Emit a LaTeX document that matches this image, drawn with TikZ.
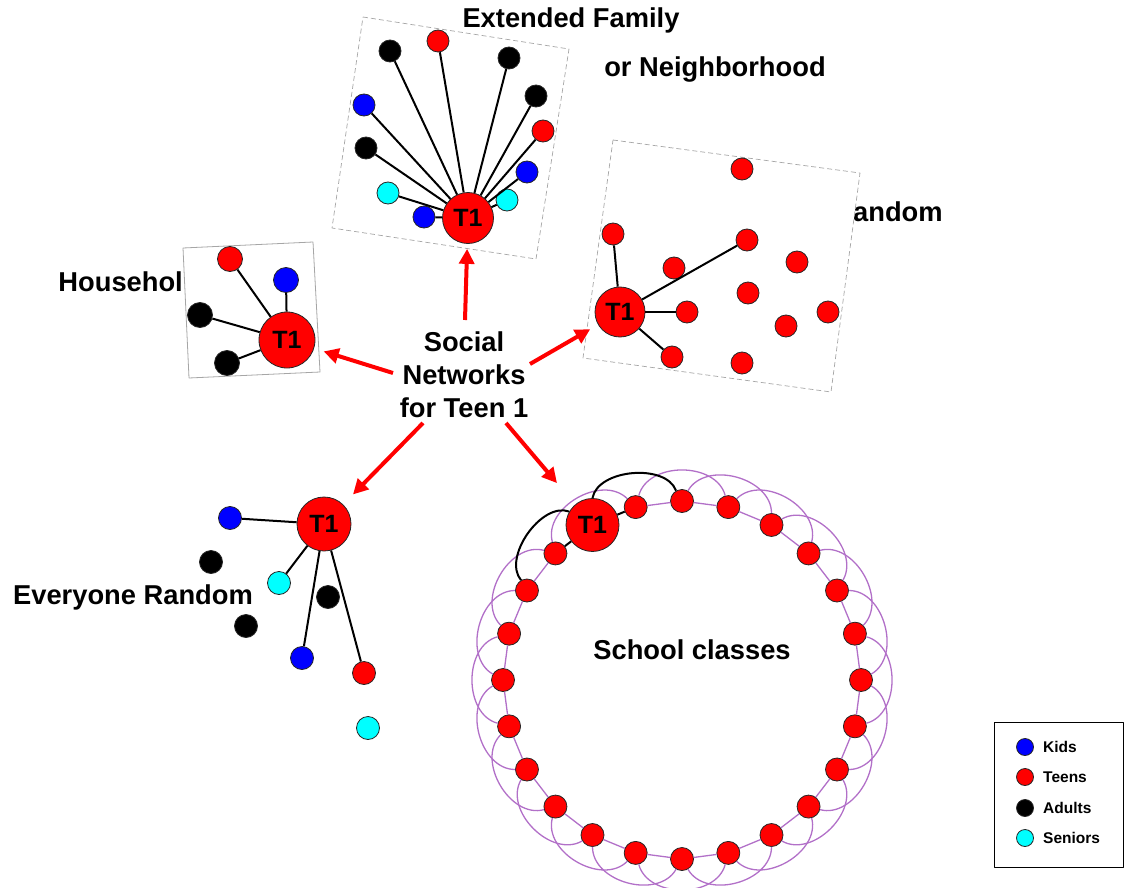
\documentclass[tikz,border=0pt]{standalone}
\usepackage{fontspec}
\setmainfont{Liberation Sans}
\usetikzlibrary{calc,arrows.meta}

\definecolor{ringpurple}{RGB}{178,112,200}
\definecolor{seniorcyan}{RGB}{0,255,255}

\tikzset{
  person/.style={circle,draw=black!85,line width=0.8pt,minimum size=22pt,inner sep=0pt},
  kid/.style={person,fill=blue},
  teen/.style={person,fill=red},
  adult/.style={person,fill=black},
  senior/.style={person,fill=seniorcyan},
  hub/.style={person,fill=red,minimum size=52pt,font=\bfseries\fontsize{25}{25}\selectfont},
  tie/.style={line width=2pt},
  frame/.style={draw=gray!70,line width=0.7pt,dash pattern=on 5pt off 3pt},
  title/.style={font=\bfseries\fontsize{27.3}{33}\selectfont,inner sep=0pt},
  keytext/.style={font=\bfseries\fontsize{15.5}{16}\selectfont,inner sep=0pt,anchor=west},
  pointer/.style={red,line width=4pt,-{Triangle[length=15pt,width=15pt]}},
  classlink/.style={draw=ringpurple,line width=1.3pt},
}

\begin{document}
\begin{tikzpicture}[x=1pt,y=-1pt,line join=round]
	\useasboundingbox (0,0) rectangle (1127,888);

	% Extended family box
	\draw[frame,fill=white] (363,17) -- (569,49) -- (536,259) -- (332,228) -- cycle;
	\node[hub,minimum size=51pt] (famT1) at (468,218) {T1};
	\node[adult]  (fam1)  at (390,51)  {};
	\node[teen]   (fam2)  at (438,41)  {};
	\node[adult]  (fam3)  at (509,58)  {};
	\node[adult]  (fam4)  at (536,96)  {};
	\node[kid]    (fam5)  at (364,105) {};
	\node[teen]   (fam6)  at (543,131) {};
	\node[adult]  (fam7)  at (366,148) {};
	\node[kid]    (fam8)  at (527,172) {};
	\node[senior] (fam9)  at (388,193) {};
	\node[senior] (fam10) at (507,200) {};
	\node[kid]    (fam11) at (424,217) {};
	\foreach \n in {1,...,11}
		\draw[tie] (famT1) -- (fam\n);
	\node[title] (famtitle) at (571,20) {Extended Family};
	\node[title] (neightitle) at (715,70) {or Neighborhood};

	% Household box
	\node[title,anchor=east] (housetitle) at (183,282) {Househol};
	\draw[draw=gray!70,line width=0.8pt,fill=white] (183,248) -- (313,242) -- (320,372) -- (189,378) -- cycle;
	\node[hub,minimum size=56pt] (houseT1) at (287,340) {T1};
	\node[teen,minimum size=25pt]  (house1) at (230,259) {};
	\node[kid,minimum size=25pt]   (house2) at (286,280) {};
	\node[adult,minimum size=25pt] (house3) at (200,315) {};
	\node[adult,minimum size=25pt] (house4) at (227,363) {};
	\foreach \n in {1,...,4}
		\draw[tie] (houseT1) -- (house\n);

	% Random teens box
	\node[title,anchor=west] (randtitle) at (853,212) {andom};
	\draw[frame,fill=white] (613,140) -- (860,173) -- (831,392) -- (583,358) -- cycle;
	\node[hub,minimum size=50pt] (randT1) at (620,312) {T1};
	\node[teen] (rand1)  at (742,169) {};
	\node[teen] (rand2)  at (613,234) {};
	\node[teen] (rand3)  at (747,240) {};
	\node[teen] (rand4)  at (674,268) {};
	\node[teen] (rand5)  at (797,262) {};
	\node[teen] (rand6)  at (748,293) {};
	\node[teen] (rand7)  at (687,312) {};
	\node[teen] (rand8)  at (828,312) {};
	\node[teen] (rand9)  at (786,326) {};
	\node[teen] (rand10) at (672,357) {};
	\node[teen] (rand11) at (742,363) {};
	\foreach \n in {2,3,7,10}
		\draw[tie] (randT1) -- (rand\n);

	% Everyone random
	\node[hub,minimum size=54pt] (allT1) at (324,524) {T1};
	\node[kid,minimum size=23pt]    (all1) at (230,518) {};
	\node[adult,minimum size=23pt]  (all2) at (211,562) {};
	\node[senior,minimum size=23pt] (all3) at (279,583) {};
	\node[adult,minimum size=23pt]  (all4) at (328,597) {};
	\node[adult,minimum size=23pt]  (all5) at (246,626) {};
	\node[kid,minimum size=23pt]    (all6) at (302,658) {};
	\node[teen,minimum size=23pt]   (all7) at (364,673) {};
	\node[senior,minimum size=23pt] (all8) at (368,728) {};
	\foreach \n in {1,3,6,7}
		\draw[tie] (allT1) -- (all\n);
	\node[title] (alltitle) at (133,597) {Everyone Random};

	% School classes ring
	\coordinate (ring) at (682,680);
	\foreach \i in {0,1,3,4,5,6,...,23}
		\node[teen,minimum size=23pt] (s\i) at ($(ring)+({-90-15*\i}:179)$) {};
	\node[hub,minimum size=53pt] (s2) at ($(ring)+(-120:179)$) {T1};
	\foreach \i in {0,...,23} {
		\pgfmathtruncatemacro\j{mod(\i+1,24)}
		\pgfmathtruncatemacro\k{mod(\i+2,24)}
		\ifnum\i=2 \else
			\ifnum\j=2 \else \draw[classlink] (s\i) -- (s\j); \fi
			\ifnum\k=2 \else \draw[classlink] (s\i) to[bend right=75,looseness=1.05] (s\k); \fi
		\fi
	}
	\draw[tie] (s2) -- (s1);
	\draw[tie] (s2) -- (s3);
	\draw[tie] (s0) to[bend right=75,looseness=0.9] (s2);
	\draw[tie] (s2) to[bend right=75,looseness=0.9] (s4);
	\node[title] (schooltitle) at (692,650) {School classes};

	% Centre and arrows
	\node[title,align=center] (social) at (464,375) {Social\\Networks\\for Teen 1};
	\coordinate (up0) at (465,320);
	\coordinate (left0) at (393,373);
	\coordinate (right0) at (530,364);
	\coordinate (dl0) at (423,423);
	\coordinate (dr0) at (506,423);
	\draw[pointer,shorten >=5pt] (up0) -- (famT1);
	\draw[pointer,shorten >=10pt] (left0) -- (houseT1);
	\draw[pointer,shorten >=9pt] (right0) -- (randT1);
	\draw[pointer,shorten >=14pt] (dl0) -- (allT1);
	\draw[pointer,shorten >=28pt] (dr0) -- (s2);

	% Legend
	\draw[line width=1pt] (994,722) rectangle (1123,867);
	\node[kid,minimum size=17pt]    (keykid)    at (1025,747) {};
	\node[teen,minimum size=17pt]   (keyteen)   at (1025,777) {};
	\node[adult,minimum size=17pt]  (keyadult)  at (1025,808) {};
	\node[senior,minimum size=17pt] (keysenior) at (1025,838) {};
	\node[keytext] at (1043,747) {Kids};
	\node[keytext] at (1043,777) {Teens};
	\node[keytext] at (1043,808) {Adults};
	\node[keytext] at (1043,838) {Seniors};
\end{tikzpicture}
\end{document}
